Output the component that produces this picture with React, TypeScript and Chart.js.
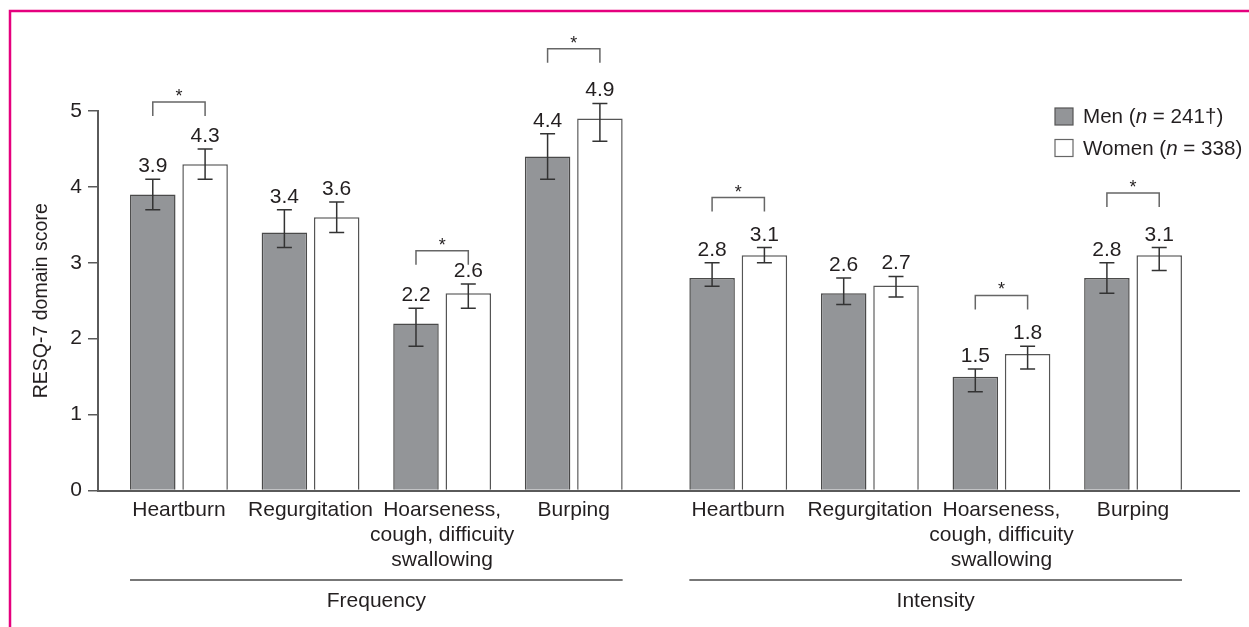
import React, { useEffect, useRef } from "react";
import { Chart, registerables } from "chart.js";

Chart.register(...registerables);

// ---------- data ----------
const categories: (string | string[])[] = [
  "Heartburn",
  "Regurgitation",
  ["Hoarseness,", "cough, difficuity", "swallowing"],
  "Burping",
];
const groups = ["Frequency", "Intensity"];
const seriesNames = ["Men", "Women"];
const legendMen = ["Men (", "n", " = 241†)"];
const legendWomen = ["Women (", "n", " = 338)"];
const yTickValues = [0, 1, 2, 3, 4, 5];
const yTitle = "RESQ-7 domain score";

const menFrequency = [3.9, 3.4, 2.2, 4.4];
const womenFrequency = [4.3, 3.6, 2.6, 4.9];
const menIntensity = [2.8, 2.6, 1.5, 2.8];
const womenIntensity = [3.1, 2.7, 1.8, 3.1];

const menFrequencyLow = [3.7, 3.2, 1.9, 4.1];
const menFrequencyHigh = [4.1, 3.7, 2.4, 4.7];
const womenFrequencyLow = [4.1, 3.4, 2.4, 4.6];
const womenFrequencyHigh = [4.5, 3.8, 2.72, 5.1];
const menIntensityLow = [2.69, 2.45, 1.3, 2.6];
const menIntensityHigh = [3.0, 2.8, 1.6, 3.0];
const womenIntensityLow = [3.0, 2.55, 1.6, 2.9];
const womenIntensityHigh = [3.2, 2.82, 1.9, 3.2];

// significance brackets (score level of the bracket bar; null = not significant)
const bracketFrequency = [5.12, null, 3.16, 5.82];
const bracketIntensity = [3.86, null, 2.57, 3.92];

// ---------- layout / style ----------
const W = 1249;
const H = 627;
const GROUP_OFFSET = 4.25; // x offset of the second group on the linear index axis
const FONT = '"Liberation Sans", Arial, Helvetica, sans-serif';
const TEXT = "#231f20";
const AXIS = "#5a5a5a";
const MEN_FILL = "#939598";
const BAR_BORDER = "#4a4a4a";
const PINK = "#e5007e";

const positions = [
  ...categories.map((_, i) => i),
  ...categories.map((_, i) => i + GROUP_OFFSET),
];
const allLabels = [...categories, ...categories];
const menValues = [...menFrequency, ...menIntensity];
const womenValues = [...womenFrequency, ...womenIntensity];
const lows = [
  [...menFrequencyLow, ...menIntensityLow],
  [...womenFrequencyLow, ...womenIntensityLow],
];
const highs = [
  [...menFrequencyHigh, ...menIntensityHigh],
  [...womenFrequencyHigh, ...womenIntensityHigh],
];
const brackets = [...bracketFrequency, ...bracketIntensity];

const font = (size: number, italic = false) =>
  `${italic ? "italic " : ""}${size}px ${FONT}`;

const overlayPlugin = {
  id: "overlay",
  afterDatasetsDraw(chart: any) {
    const ctx: CanvasRenderingContext2D = chart.ctx;
    const y = chart.scales.y;
    const metas = [chart.getDatasetMeta(0), chart.getDatasetMeta(1)];
    ctx.save();

    // error bars + value labels
    metas.forEach((meta: any, d: number) => {
      const values = d === 0 ? menValues : womenValues;
      meta.data.forEach((el: any, j: number) => {
        const x = el.x;
        const yHi = y.getPixelForValue(highs[d][j]);
        const yLo = y.getPixelForValue(lows[d][j]);
        ctx.strokeStyle = "#333333";
        ctx.lineWidth = 1.5;
        ctx.beginPath();
        ctx.moveTo(x, yHi);
        ctx.lineTo(x, yLo);
        ctx.moveTo(x - 7.5, yHi);
        ctx.lineTo(x + 7.5, yHi);
        ctx.moveTo(x - 7.5, yLo);
        ctx.lineTo(x + 7.5, yLo);
        ctx.stroke();

        ctx.fillStyle = TEXT;
        ctx.font = font(21);
        ctx.textAlign = "center";
        ctx.textBaseline = "alphabetic";
        ctx.fillText(values[j].toFixed(1), x, yHi - 7);
      });
    });

    // significance brackets
    brackets.forEach((level, j) => {
      if (level == null) return;
      const x1 = metas[0].data[j].x;
      const x2 = metas[1].data[j].x;
      const bTop = y.getPixelForValue(level);
      const legBottom = bTop + 14;
      ctx.strokeStyle = "#666666";
      ctx.lineWidth = 1.5;
      ctx.beginPath();
      ctx.moveTo(x1, legBottom);
      ctx.lineTo(x1, bTop);
      ctx.lineTo(x2, bTop);
      ctx.lineTo(x2, legBottom);
      ctx.stroke();
      ctx.fillStyle = TEXT;
      ctx.font = font(18);
      ctx.textAlign = "center";
      ctx.textBaseline = "alphabetic";
      ctx.fillText("*", (x1 + x2) / 2, bTop);
    });

    // group lines and names
    const n = categories.length;
    groups.forEach((g, gi) => {
      const first = metas[0].data[gi * n];
      const last = metas[1].data[gi * n + n - 1];
      const xa = first.x - first.width / 2;
      const xb = last.x + last.width / 2;
      ctx.strokeStyle = "#777777";
      ctx.lineWidth = 2;
      ctx.beginPath();
      ctx.moveTo(xa, 580);
      ctx.lineTo(xb, 580);
      ctx.stroke();
      ctx.fillStyle = TEXT;
      ctx.font = font(21);
      ctx.textAlign = "center";
      ctx.textBaseline = "alphabetic";
      ctx.fillText(g, (xa + xb) / 2, 607);
    });

    // legend
    const rows = [legendMen, legendWomen];
    rows.forEach((parts, r) => {
      const cy = 116.5 + r * 31.5;
      ctx.lineWidth = 1.2;
      ctx.strokeStyle = r === 0 ? "#555555" : "#666666";
      ctx.fillStyle = r === 0 ? MEN_FILL : "#ffffff";
      ctx.fillRect(1055, cy - 8.5, 18, 17);
      ctx.strokeRect(1055, cy - 8.5, 18, 17);
      let x = 1083;
      ctx.fillStyle = TEXT;
      ctx.textAlign = "left";
      ctx.textBaseline = "middle";
      parts.forEach((p, k) => {
        ctx.font = font(20.6, k === 1);
        ctx.fillText(p, x, cy + 1);
        x += ctx.measureText(p).width;
      });
    });

    // pink frame
    ctx.strokeStyle = PINK;
    ctx.lineWidth = 2.5;
    ctx.beginPath();
    ctx.moveTo(10, H);
    ctx.lineTo(10, 11);
    ctx.lineTo(W, 11);
    ctx.stroke();

    ctx.restore();
  },
};

export default function App() {
  const ref = useRef<HTMLCanvasElement | null>(null);

  useEffect(() => {
    if (!ref.current) return;
    const chart = new Chart(ref.current, {
      type: "bar",
      data: {
        datasets: [
          {
            label: seriesNames[0],
            data: menValues.map((v, i) => ({ x: positions[i], y: v })),
            backgroundColor: MEN_FILL,
            borderColor: BAR_BORDER,
            borderWidth: 1.5,
          },
          {
            label: seriesNames[1],
            data: womenValues.map((v, i) => ({ x: positions[i], y: v })),
            backgroundColor: "#ffffff",
            borderColor: "#555555",
            borderWidth: 1.5,
          },
        ],
      },
      options: {
        responsive: false,
        animation: false,
        devicePixelRatio: 1,
        categoryPercentage: 0.795,
        barPercentage: 0.87,
        layout: { padding: { top: 111, left: 0, right: 10, bottom: 0 } },
        plugins: {
          legend: { display: false },
          tooltip: { enabled: false },
        },
        scales: {
          x: {
            type: "linear",
            offset: false,
            min: -0.615,
            max: 8.055,
            grid: { display: false, drawTicks: false },
            border: { display: true, color: AXIS, width: 2 },
            afterBuildTicks: (axis: any) => {
              axis.ticks = positions.map((v) => ({ value: v }));
            },
            afterFit: (axis: any) => {
              axis.height = H - 490.5;
            },
            ticks: {
              autoSkip: false,
              maxRotation: 0,
              minRotation: 0,
              padding: 7,
              color: TEXT,
              font: { family: FONT, size: 21, lineHeight: 1.19 },
              callback: (_v: any, i: number) => allLabels[i] as any,
            },
          },
          y: {
            min: 0,
            max: 5,
            afterBuildTicks: (axis: any) => {
              axis.ticks = yTickValues.map((v) => ({ value: v }));
            },
            afterFit: (axis: any) => {
              axis.width = 98;
            },
            grid: {
              display: true,
              drawOnChartArea: false,
              drawTicks: true,
              tickLength: 10,
              color: AXIS,
              lineWidth: 1.5,
            },
            border: { display: true, color: AXIS, width: 2 },
            ticks: {
              padding: 6,
              color: TEXT,
              font: { family: FONT, size: 21 },
              callback: (v: any) => String(v),
            },
            title: {
              display: true,
              text: yTitle,
              color: TEXT,
              font: { family: FONT, size: 19.5, lineHeight: 1.2 },
              padding: { top: 30, bottom: 0 },
            },
          },
        },
      } as any,
      plugins: [overlayPlugin],
    });
    return () => chart.destroy();
  }, []);

  return (
    <div style={{ position: "absolute", left: 0, top: 0, width: W, height: H, background: "#fff" }}>
      <canvas ref={ref} width={W} height={H} style={{ display: "block", width: W, height: H }} />
    </div>
  );
}
